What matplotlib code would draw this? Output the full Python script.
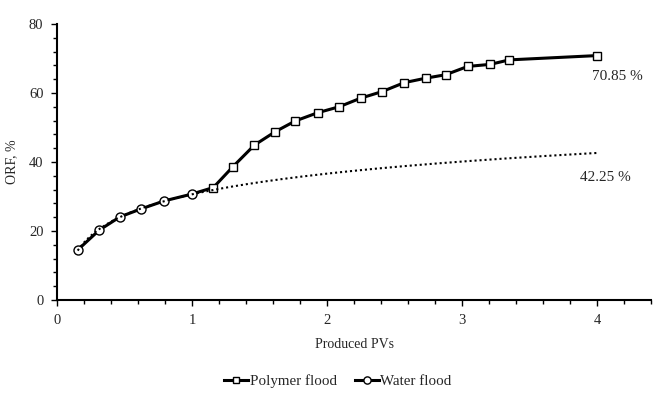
import numpy as np
import matplotlib
matplotlib.use("Agg")
import matplotlib.pyplot as plt
from matplotlib.ticker import MultipleLocator

plt.rcParams['font.family'] = ['Liberation Serif', 'DejaVu Serif']

water_x = [0.151, 0.309, 0.464, 0.62, 0.79, 0.996]
water_y = [14.5, 20.2, 24.1, 26.4, 28.7, 30.7]

polymer_x = [1.156, 1.30, 1.46, 1.615, 1.763, 1.93, 2.087, 2.247, 2.405,
             2.57, 2.73, 2.877, 3.04, 3.207, 3.348, 4.0]
polymer_y = [32.6, 38.6, 44.9, 48.8, 51.9, 54.3, 56.0, 58.5, 60.4,
             63.0, 64.3, 65.3, 67.7, 68.3, 69.6, 70.85]

labels = ["70.85 %", "42.25 %"]
trend_end_x = 4.0

fig = plt.figure(figsize=(6.53, 3.97), dpi=100)
ax = fig.add_axes([57.3/653, (397-300)/397, (651.3-57.3)/653, 276/397])

# polymer series connects from last water point
px = [water_x[-1]] + polymer_x
py = [water_y[-1]] + polymer_y
ax.plot(px, py, color='black', lw=2.2, marker='s', ms=5.8, mfc='white',
        mec='black', mew=1.0, markevery=list(range(1, len(px))), zorder=3,
        label='Polymer flood', solid_joinstyle='round')
ax.plot(water_x, water_y, color='black', lw=2.2, marker='o', ms=6.5, mfc='white',
        mec='black', mew=1.0, zorder=4, label='Water flood')

# logarithmic trendline of water flood data
a, b = np.polyfit(np.log(water_x), water_y, 1)
tx = np.linspace(water_x[0], trend_end_x, 300)
ax.plot(tx, a*np.log(tx) + b, color='black', lw=1.5, linestyle=(0, (1, 1.4)),
        dash_capstyle='butt', zorder=5)

ax.text(3.96, 64.9, labels[0], fontsize=11, ha='left', va='center', color='#262626')
ax.text(3.87, 35.4, labels[1], fontsize=11, ha='left', va='center', color='#262626')

ax.set_xlim(0, 4.4)
ax.set_ylim(0, 80)
ax.xaxis.set_major_locator(MultipleLocator(1))
ax.xaxis.set_minor_locator(MultipleLocator(0.2))
ax.yaxis.set_major_locator(MultipleLocator(20))
ax.yaxis.set_minor_locator(MultipleLocator(4))
for s in ['top', 'right']:
    ax.spines[s].set_visible(False)
for s in ['left', 'bottom']:
    ax.spines[s].set_linewidth(1.5)
ax.tick_params(which='major', direction='out', length=4, width=1, labelsize=10.5, pad=6,
               labelcolor='#262626')
ax.tick_params(which='minor', direction='out', length=3, width=1)
ax.set_xlabel('Produced PVs', fontsize=10, labelpad=8, color='#262626')
ax.set_ylabel('ORF, %', fontsize=10, labelpad=8, color='#262626')

leg = fig.legend(loc='center', bbox_to_anchor=(338/653, 1-381/397), ncol=2,
                 frameon=False, fontsize=10.8, handlelength=1.6, columnspacing=1.2,
                 handletextpad=0.1, markerscale=0.8)
for t in leg.get_texts():
    t.set_color('#262626')

fig.savefig('out.png', dpi=100)
